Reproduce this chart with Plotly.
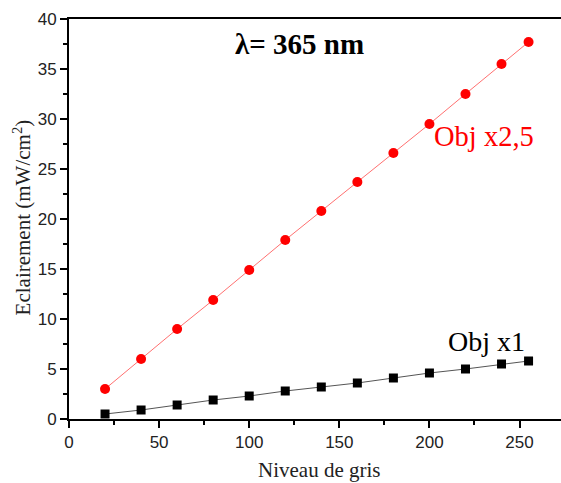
import plotly.graph_objects as go

niveau = [20, 40, 60, 80, 100, 120, 140, 160, 180, 200, 220, 240, 255]
obj_x25 = [3.0, 6.0, 9.0, 11.9, 14.9, 17.9, 20.8, 23.7, 26.6, 29.5, 32.5, 35.5, 37.7]
obj_x1 = [0.5, 0.9, 1.4, 1.9, 2.3, 2.8, 3.2, 3.6, 4.1, 4.6, 5.0, 5.5, 5.8]

SERIF = "Times New Roman, Liberation Serif, serif"
SANS = "Arial, Liberation Sans, sans-serif"

fig = go.Figure()
fig.add_trace(go.Scatter(x=niveau, y=obj_x25, mode="lines+markers",
                         line=dict(color="#ff7070", width=1),
                         marker=dict(symbol="circle", size=10, color="#ff0000"),
                         showlegend=False))
fig.add_trace(go.Scatter(x=niveau, y=obj_x1, mode="lines+markers",
                         line=dict(color="#555555", width=1),
                         marker=dict(symbol="square", size=9, color="#000000"),
                         showlegend=False))

axis_common = dict(showgrid=False, zeroline=False, showline=True, linecolor="black",
                   linewidth=2, ticks="outside", ticklen=7, tickwidth=1.5,
                   tickcolor="black", automargin=False,
                   tickfont=dict(family=SANS, size=17, color="#222"))

fig.update_xaxes(range=[0, 273], tick0=0, dtick=50, mirror=True,
                 minor=dict(ticks="outside", dtick=25, ticklen=4, tickcolor="black", tickwidth=1.5),
                 **axis_common)
fig.update_yaxes(range=[0, 40], tick0=0, dtick=5, mirror=False,
                 minor=dict(ticks="outside", dtick=2.5, ticklen=4, tickcolor="black", tickwidth=1.5),
                 **axis_common)

ann = dict(xref="paper", yref="paper", showarrow=False, xanchor="center", yanchor="middle")
fig.add_annotation(x=0.4685, y=0.9375, text="<b>λ= 365 nm</b>",
                   font=dict(family=SERIF, size=29, color="black"), **ann)
fig.add_annotation(x=0.8435, y=0.707, text="Obj x2,5",
                   font=dict(family=SERIF, size=28.5, color="#ff0000"), **ann)
fig.add_annotation(x=0.8476, y=0.195, text="Obj x1",
                   font=dict(family=SERIF, size=28, color="black"), **ann)
fig.add_annotation(x=0.5081, y=-0.1275, text="Niveau de gris",
                   font=dict(family=SERIF, size=21, color="#222"), **ann)
fig.add_annotation(x=-0.0955, y=0.504, text="Eclairement (mW/cm<sup>2</sup>)",
                   textangle=-90, font=dict(family=SERIF, size=21, color="#222"), **ann)

fig.update_layout(width=561, height=483, margin=dict(l=69, r=0, t=19, b=64),
                  plot_bgcolor="white", paper_bgcolor="white")
fig.write_html("out.html", config={"displayModeBar": False},
               post_script="document.body.style.margin='0';document.body.style.overflow='hidden';")
